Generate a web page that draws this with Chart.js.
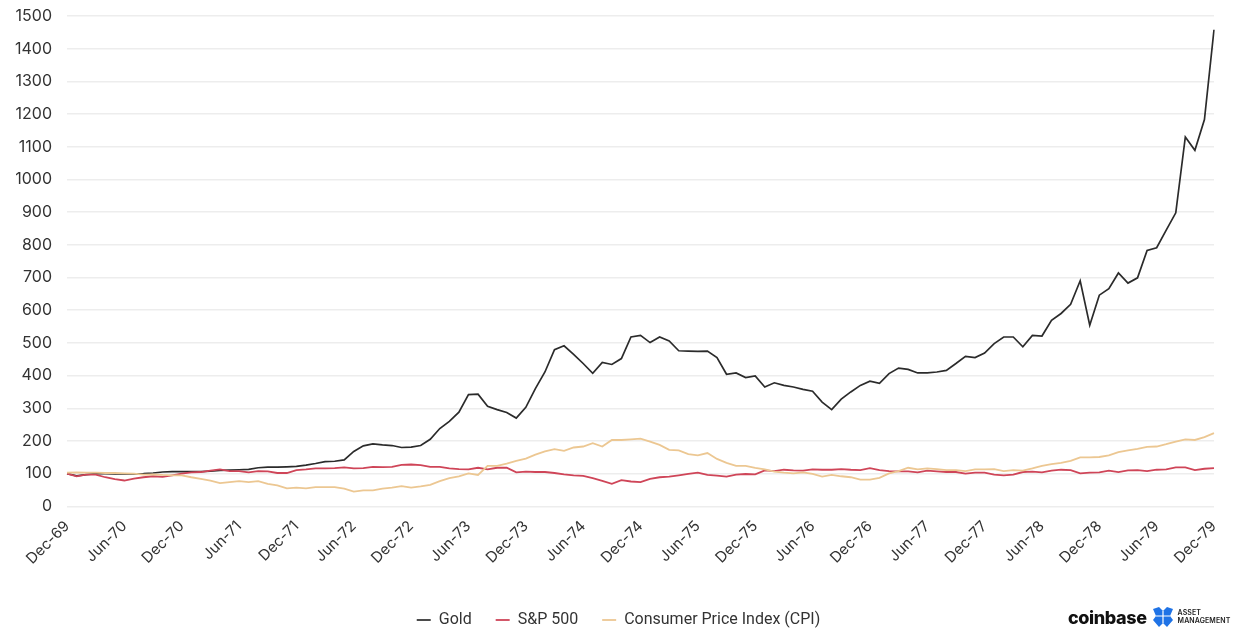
<!DOCTYPE html>
<html><head><meta charset="utf-8">
<script src="https://cdn.jsdelivr.net/npm/chart.js@4.4.1/dist/chart.umd.min.js"></script>
<style>
html,body{margin:0;padding:0;background:#fff;}
#wrap{position:relative;width:1237px;height:628px;overflow:hidden;}
#logo{position:absolute;left:1068px;top:605px;height:24px;display:flex;align-items:center;font-family:Inter,"Noto Sans",sans-serif;color:#111;}
#logo .cb{font-weight:800;font-size:18px;letter-spacing:-0.4px;}
#logo svg{margin-left:5px;}
#logo .am{margin-left:4px;font-size:7px;line-height:8px;font-weight:600;letter-spacing:0.1px;color:#222;}
</style></head><body>
<div id="wrap"><canvas id="c" width="1237" height="628"></canvas>
<div id="logo"><span class="cb">coinbase</span>
<svg width="22" height="22" viewBox="0 0 22 22"><polygon points="1,3 7,1 11,5 15,1 21,3 18,10 21,14 15,21 11,17 7,21 1,14 4,10" fill="#1f73e6"/><path d="M11,5 L11,17 M4,10 L18,10" stroke="#fff" stroke-width="1.2"/></svg>
<span class="am">ASSET<br>MANAGEMENT</span></div>
</div>
<script>
const categories = [
 "Dec-69",
 "Jan-70","Feb-70","Mar-70","Apr-70","May-70","Jun-70","Jul-70","Aug-70","Sep-70","Oct-70","Nov-70","Dec-70",
 "Jan-71","Feb-71","Mar-71","Apr-71","May-71","Jun-71","Jul-71","Aug-71","Sep-71","Oct-71","Nov-71","Dec-71",
 "Jan-72","Feb-72","Mar-72","Apr-72","May-72","Jun-72","Jul-72","Aug-72","Sep-72","Oct-72","Nov-72","Dec-72",
 "Jan-73","Feb-73","Mar-73","Apr-73","May-73","Jun-73","Jul-73","Aug-73","Sep-73","Oct-73","Nov-73","Dec-73",
 "Jan-74","Feb-74","Mar-74","Apr-74","May-74","Jun-74","Jul-74","Aug-74","Sep-74","Oct-74","Nov-74","Dec-74",
 "Jan-75","Feb-75","Mar-75","Apr-75","May-75","Jun-75","Jul-75","Aug-75","Sep-75","Oct-75","Nov-75","Dec-75",
 "Jan-76","Feb-76","Mar-76","Apr-76","May-76","Jun-76","Jul-76","Aug-76","Sep-76","Oct-76","Nov-76","Dec-76",
 "Jan-77","Feb-77","Mar-77","Apr-77","May-77","Jun-77","Jul-77","Aug-77","Sep-77","Oct-77","Nov-77","Dec-77",
 "Jan-78","Feb-78","Mar-78","Apr-78","May-78","Jun-78","Jul-78","Aug-78","Sep-78","Oct-78","Nov-78","Dec-78",
 "Jan-79","Feb-79","Mar-79","Apr-79","May-79","Jun-79","Jul-79","Aug-79","Sep-79","Oct-79","Nov-79","Dec-79"
];
const tickLabels = ["Dec-69","Jun-70","Dec-70","Jun-71","Dec-71","Jun-72","Dec-72","Jun-73","Dec-73","Jun-74","Dec-74","Jun-75","Dec-75","Jun-76","Dec-76","Jun-77","Dec-77","Jun-78","Dec-78","Jun-79","Dec-79"];
const gold = [
 100,
 93,97,100,100,99,99,99,100,102,105,106,106,
 106,106,108,110,111,112,113,118,120,120,121,122,
 126,131,137,138,142,168,185,191,188,186,180,181,
 186,205,238,260,288,342,343,306,296,287,270,303,
 360,411,479,491,465,437,407,440,434,452,518,523,
 501,518,506,476,475,474,475,455,404,408,394,399,
 365,378,370,365,358,352,319,296,328,350,370,383,
 376,406,423,419,408,408,411,416,437,459,455,469,
 498,518,518,488,523,521,569,590,618,690,554,646,
 666,714,683,699,783,791,845,898,1130,1089,1183,1458
];
const sp500 = [
 100,
 92,97,97,89,83,79,85,89,92,90,95,100,
 104,105,109,113,108,108,104,108,107,102,102,111,
 113,116,116,117,119,116,117,121,120,121,127,128,
 126,121,121,116,114,113,118,113,118,118,104,106,
 105,105,102,98,95,93,86,78,69,80,76,74,
 84,89,91,95,99,103,96,94,91,97,99,98,
 110,108,112,110,109,113,112,112,114,112,111,117,
 111,108,107,107,104,109,107,105,105,100,103,103,
 97,95,97,105,106,104,109,112,111,101,103,104,
 109,105,110,111,108,112,113,119,119,111,115,117
];
const cpi = [
 103,
 104,103,103,102,102,101,100,97,98,96,95,95,
 89,84,79,71,74,77,74,77,69,64,55,57,
 55,59,59,59,54,45,49,49,54,57,62,57,
 61,66,77,86,92,101,96,124,124,131,139,146,
 158,168,175,170,180,183,193,183,203,203,205,207,
 198,188,173,171,160,156,163,145,133,124,124,118,
 113,106,103,101,104,99,91,96,92,89,82,82,
 87,101,108,118,113,116,114,111,111,108,113,113,
 114,108,111,109,116,124,129,133,139,150,150,151,
 156,166,171,176,182,183,190,198,205,203,212,224
];
const FONT = 'Inter, "Noto Sans", sans-serif';
new Chart(document.getElementById('c'), {
  type: 'line',
  data: {
    labels: categories,
    datasets: [
      {label:'Gold', data: gold, borderColor:'#2b2b2b', backgroundColor:'#2b2b2b', borderWidth:1.7, pointRadius:0, tension:0, order:2},
      {label:'S&P 500', data: sp500, borderColor:'#cf4558', backgroundColor:'#cf4558', borderWidth:1.8, pointRadius:0, tension:0, order:1},
      {label:'Consumer Price Index (CPI)', data: cpi, borderColor:'#ecc792', backgroundColor:'#ecc792', borderWidth:1.8, pointRadius:0, tension:0, order:0}
    ]
  },
  options: {
    responsive:false, animation:false, devicePixelRatio:1,
    layout:{padding:{top:16,left:0,right:0,bottom:-10}},
    plugins:{
      tooltip:{enabled:false},
      legend:{position:'bottom', labels:{
        usePointStyle:true, pointStyle:'line', pointStyleWidth:14, boxHeight:2,
        color:'#333', font:{family:'Roboto, "Noto Sans", sans-serif',size:16}, padding:24,
        sort:(a,b)=>a.datasetIndex-b.datasetIndex
      }}
    },
    scales:{
      x:{
        grid:{display:false}, border:{display:false},
        afterFit:function(s){ s.height += 17; s.paddingLeft = 57; s.paddingRight = 23; },
        ticks:{autoSkip:false, maxRotation:45, minRotation:45, color:'#333', font:{family:FONT,size:15},
          callback:function(v,i){ const l = categories[i]; return tickLabels.includes(l) ? l : null; }}
      },
      y:{
        min:0, max:1500,
        afterFit:function(s){ s.paddingTop = 0; },
        grid:{color:'#ededed', lineWidth:1.5, drawTicks:false}, border:{display:false},
        ticks:{stepSize:100, color:'#333', font:{family:FONT,size:16}, padding:15,
          callback:function(v){ return String(v); }}
      }
    }
  }
});
</script>
</body></html>
